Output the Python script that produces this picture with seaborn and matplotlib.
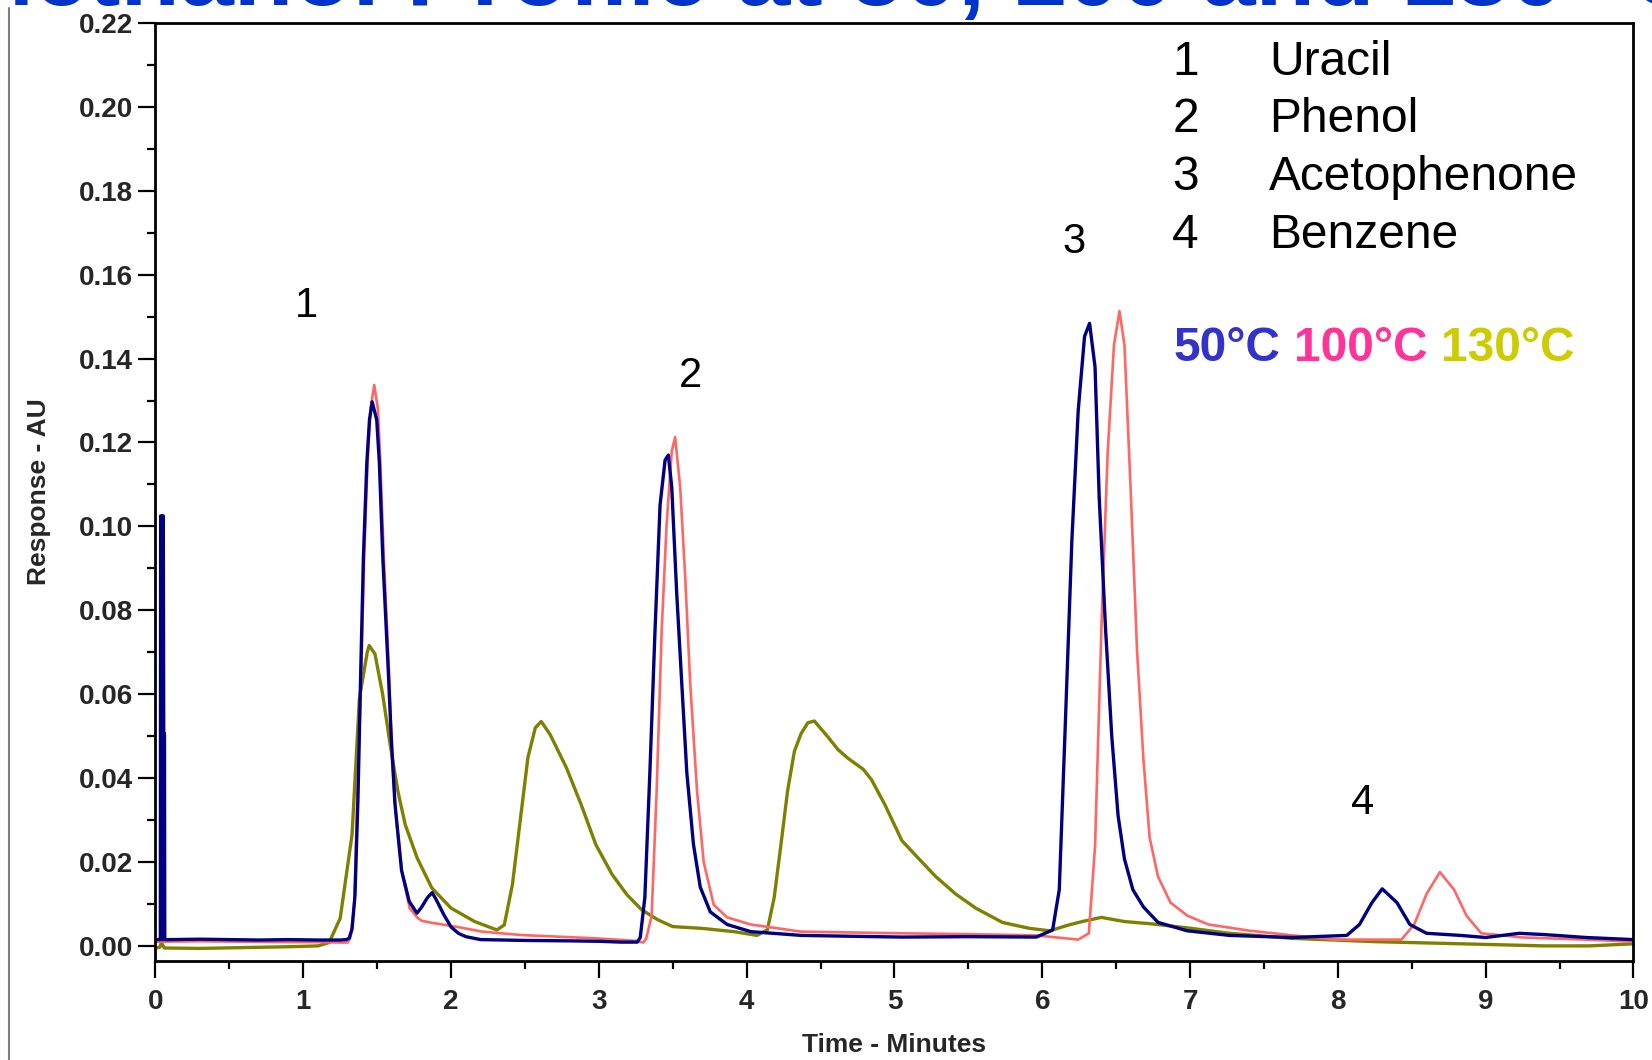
import matplotlib
matplotlib.use("Agg")
import matplotlib.pyplot as plt
from matplotlib.lines import Line2D
from matplotlib.ticker import MultipleLocator, FormatStrFormatter
import seaborn as sns
import pandas as pd

# ---------------- data ----------------
t_50 = [0.0, 0.02, 0.033, 0.035, 0.040, 0.042, 0.047, 0.049, 0.053, 0.056, 0.061, 0.063, 0.1,
        0.3, 0.5, 0.7, 0.9, 1.1, 1.25,
        1.29, 1.31, 1.33, 1.35, 1.37, 1.389, 1.407, 1.43, 1.448, 1.466, 1.497, 1.515, 1.538, 1.575,
        1.595, 1.62, 1.665, 1.717, 1.769, 1.80, 1.84, 1.872, 1.90, 1.95, 2.00, 2.05, 2.10, 2.20,
        2.5, 2.8, 3.0, 3.15, 3.26, 3.28, 3.311, 3.345, 3.38, 3.414, 3.448, 3.47, 3.493, 3.527,
        3.561, 3.595, 3.64, 3.686, 3.754, 3.868, 4.027, 4.368, 4.7, 5.05, 5.5, 5.96, 6.07, 6.115,
        6.158, 6.2, 6.243, 6.286, 6.32, 6.357, 6.385, 6.428, 6.47, 6.513, 6.556, 6.613, 6.684,
        6.783, 6.98, 7.266, 7.69, 8.06, 8.146, 8.23, 8.30, 8.4, 8.487, 8.6, 8.83, 9.0, 9.226,
        9.396, 9.68, 10.0]
r_50 = [0.0015, 0.0015, 0.0015, 0.1025, 0.1025, 0.0015, 0.0015, 0.1025, 0.1025, 0.0506, 0.0506,
        0.0015, 0.0015,
        0.0016, 0.0015, 0.0014, 0.0015, 0.0014, 0.0014,
        0.0015, 0.0018, 0.004, 0.012, 0.035, 0.0657, 0.0927, 0.1151, 0.1254, 0.1297, 0.1254,
        0.1151, 0.0927, 0.0657,
        0.050, 0.034, 0.018, 0.0106, 0.0078, 0.0092, 0.0115, 0.0127, 0.011, 0.0075, 0.0045,
        0.003, 0.0022, 0.0015,
        0.0013, 0.0012, 0.0011, 0.0009, 0.0009, 0.002, 0.0115, 0.0413, 0.0753, 0.1051, 0.1158,
        0.1170, 0.1094, 0.0838,
        0.0625, 0.0413, 0.0242, 0.014, 0.0081, 0.0051, 0.0034, 0.0025, 0.0023, 0.0021, 0.0022,
        0.0021, 0.0038, 0.0134,
        0.055, 0.0965, 0.1276, 0.1453, 0.1484, 0.138, 0.107, 0.0756, 0.05, 0.031, 0.0207, 0.0134,
        0.0093,
        0.0056, 0.0036, 0.0025, 0.002, 0.0025, 0.0051, 0.0103, 0.0136, 0.0103, 0.0051, 0.003,
        0.0025, 0.002, 0.003,
        0.0027, 0.002, 0.0015]

t_100 = [0.0, 0.3, 0.6, 0.9, 1.1, 1.25, 1.30, 1.32, 1.345, 1.365, 1.393, 1.412, 1.435, 1.455,
         1.48, 1.505, 1.522, 1.545, 1.58, 1.60, 1.63, 1.67, 1.72, 1.77, 1.80, 1.87, 2.03, 2.21,
         2.47, 2.98, 3.25, 3.30, 3.32, 3.357, 3.391, 3.425, 3.459, 3.493, 3.516, 3.55, 3.584,
         3.618, 3.664, 3.709, 3.777, 3.868, 4.027, 4.368, 5.05, 5.5, 5.96, 6.243, 6.315, 6.357,
         6.4, 6.442, 6.485, 6.522, 6.556, 6.6, 6.641, 6.684, 6.726, 6.783, 6.868, 6.982, 7.124,
         7.408, 7.692, 7.976, 8.43, 8.516, 8.6, 8.69, 8.786, 8.87, 8.97, 9.254, 9.68, 10.0]
r_100 = [0.001, 0.0011, 0.001, 0.0009, 0.0009, 0.0008, 0.0008, 0.002, 0.010, 0.035, 0.0657,
         0.0927, 0.1151, 0.128,
         0.1337, 0.128, 0.1151, 0.0927, 0.0657, 0.045, 0.030, 0.017, 0.009, 0.0068, 0.006, 0.0055,
         0.0046, 0.0034,
         0.0026, 0.0018, 0.0012, 0.0008, 0.0017, 0.0072, 0.037, 0.0753, 0.1009, 0.1179, 0.1213,
         0.1094, 0.088,
         0.0625, 0.037, 0.02, 0.0098, 0.0068, 0.0051, 0.0034, 0.003, 0.0028, 0.0025, 0.0015, 0.003,
         0.0238,
         0.0757, 0.1173, 0.1432, 0.1513, 0.1432, 0.107, 0.0705, 0.0446, 0.0259, 0.0165, 0.0103,
         0.0072, 0.0051,
         0.0036, 0.0025, 0.0015, 0.0015, 0.0051, 0.0124, 0.0176, 0.0134, 0.0072, 0.003, 0.002,
         0.0015, 0.001]

t_130 = [0.0, 0.03, 0.04, 0.06, 0.3, 0.6, 0.9, 1.1, 1.175, 1.25, 1.33, 1.38, 1.433, 1.446, 1.485,
         1.537, 1.588, 1.64, 1.69, 1.77, 1.87, 2.0, 2.16, 2.31, 2.36, 2.415, 2.47, 2.52, 2.57,
         2.61, 2.67, 2.78, 2.88, 2.98, 3.09, 3.19, 3.29, 3.40, 3.50, 3.69, 3.914, 4.07, 4.14,
         4.186, 4.232, 4.277, 4.323, 4.368, 4.414, 4.458, 4.55, 4.618, 4.686, 4.789, 4.845, 4.936,
         5.05, 5.14, 5.277, 5.413, 5.55, 5.73, 5.91, 6.05, 6.18, 6.27, 6.40, 6.556, 6.726, 6.982,
         7.266, 7.69, 8.26, 8.83, 9.396, 9.7, 10.0]
r_130 = [-0.0005, -0.0003, 0.0008, -0.0005, -0.0006, -0.0004, -0.0002, 0.0, 0.0008, 0.0066,
         0.0265, 0.059, 0.070, 0.0716, 0.0696,
         0.060, 0.048, 0.0369, 0.0289, 0.021, 0.0138, 0.009, 0.0058, 0.0038, 0.005, 0.0146,
         0.0305, 0.0449, 0.052,
         0.0535, 0.0504, 0.0425, 0.0337, 0.0241, 0.017, 0.0122, 0.0086, 0.0062, 0.0046, 0.0042,
         0.0034, 0.0025, 0.0038,
         0.0115, 0.0242, 0.037, 0.0464, 0.0506, 0.0532, 0.0536, 0.0498, 0.0468, 0.0447, 0.0421,
         0.0396, 0.0336,
         0.0251, 0.0217, 0.0166, 0.0124, 0.009, 0.0056, 0.0042, 0.0036, 0.0050, 0.0058, 0.0068,
         0.0058, 0.0053, 0.0043,
         0.003, 0.0018, 0.001, 0.0005, 0.0, 0.0, 0.0005]

peak_labels = ["1", "2", "3", "4"]
peak_label_x = [1.02, 3.62, 6.216, 8.17]
peak_label_y = [0.1526, 0.1359, 0.1678, 0.0341]

compound_numbers = ["1", "2", "3", "4"]
compound_names = ["Uracil", "Phenol", "Acetophenone", "Benzene"]
key_y = [0.2106, 0.1970, 0.1831, 0.1693]
temps = ["50°C", "100°C", "130°C"]

x_ticks = list(range(0, 11))
y_ticks = [0.00, 0.02, 0.04, 0.06, 0.08, 0.10, 0.12, 0.14, 0.16, 0.18, 0.20, 0.22]

# ---------------- style ----------------
sns.set_style("ticks")
plt.rcParams["font.family"] = ["Liberation Sans", "DejaVu Sans"]

c50, c100, c130 = "#000080", "#ff6666", "#808000"
t50_col, t100_col, t130_col = "#3333cc", "#ff3399", "#cccc00"

fig = plt.figure(figsize=(16.52, 10.6), dpi=100)
ax = fig.add_axes([0.0941, 0.0934, 0.8947, 0.8849])

df130 = pd.DataFrame({"t": t_130, "r": r_130})
df100 = pd.DataFrame({"t": t_100, "r": r_100})
df50 = pd.DataFrame({"t": t_50, "r": r_50})
sns.lineplot(data=df130, x="t", y="r", ax=ax, color=c130, lw=2.4, sort=False, estimator=None)
sns.lineplot(data=df100, x="t", y="r", ax=ax, color=c100, lw=1.9, sort=False, estimator=None)
sns.lineplot(data=df50, x="t", y="r", ax=ax, color=c50, lw=2.4, sort=False, estimator=None)

ax.set_xlim(0, 10)
ax.set_ylim(-0.0036, 0.22)
ax.set_xticks(x_ticks)
ax.set_yticks(y_ticks)
ax.xaxis.set_minor_locator(MultipleLocator(0.5))
ax.yaxis.set_minor_locator(MultipleLocator(0.01))
ax.yaxis.set_major_formatter(FormatStrFormatter("%.2f"))
ax.tick_params(axis="both", which="major", direction="out", length=12, width=1.6,
               labelsize=20, color="black")
ax.tick_params(axis="both", which="minor", direction="out", length=6, width=1.6, color="black")
ax.tick_params(axis="y", which="major", pad=4)
ax.tick_params(axis="x", which="major", pad=8)
for lab in ax.get_xticklabels() + ax.get_yticklabels():
    lab.set_fontweight("bold")
for sp in ax.spines.values():
    sp.set_visible(True)
    sp.set_linewidth(2.0)
    sp.set_color("black")

ax.set_xlabel("Time - Minutes", fontsize=19, fontweight="bold")
ax.set_ylabel("Response - AU", fontsize=19, fontweight="bold")
ax.xaxis.set_label_coords(0.5, -0.0765)
ax.yaxis.set_label_coords(-0.071, 0.5)

# peak labels
for lab, x, y in zip(peak_labels, peak_label_x, peak_label_y):
    ax.text(x, y, lab, fontsize=30, ha="center", va="center", color="black")

# compound key
for num, name, y in zip(compound_numbers, compound_names, key_y):
    ax.text(6.97, y, num, fontsize=34.5, ha="center", va="center", color="black")
    ax.text(7.535, y, name, fontsize=34.5, ha="left", va="center", color="black")

# temperature key
t1 = ax.text(6.886, 0.1423, temps[0], fontsize=34.5, fontweight="bold", color=t50_col,
             ha="left", va="center")
t2 = ax.annotate(temps[1], xy=(1, 0.5), xycoords=t1, xytext=(10, 0), textcoords="offset points",
                 fontsize=34.5, fontweight="bold", color=t100_col, ha="left", va="center")
t3 = ax.annotate(temps[2], xy=(1, 0.5), xycoords=t2, xytext=(10, 0), textcoords="offset points",
                 fontsize=34.5, fontweight="bold", color=t130_col, ha="left", va="center")

# clipped slide title and slide border line
fig.text(0.5, 1 - 5 / 1060, "Methanol Profile at 50, 100 and 130 °C", fontsize=70,
         fontweight="bold", color="#0033cc", ha="center", va="baseline")
fig.add_artist(Line2D([9.3 / 1652, 9.3 / 1652], [0, 1 - 8 / 1060], color="#808080", lw=1.5,
                      transform=fig.transFigure))

fig.savefig("out.png", dpi=100)
